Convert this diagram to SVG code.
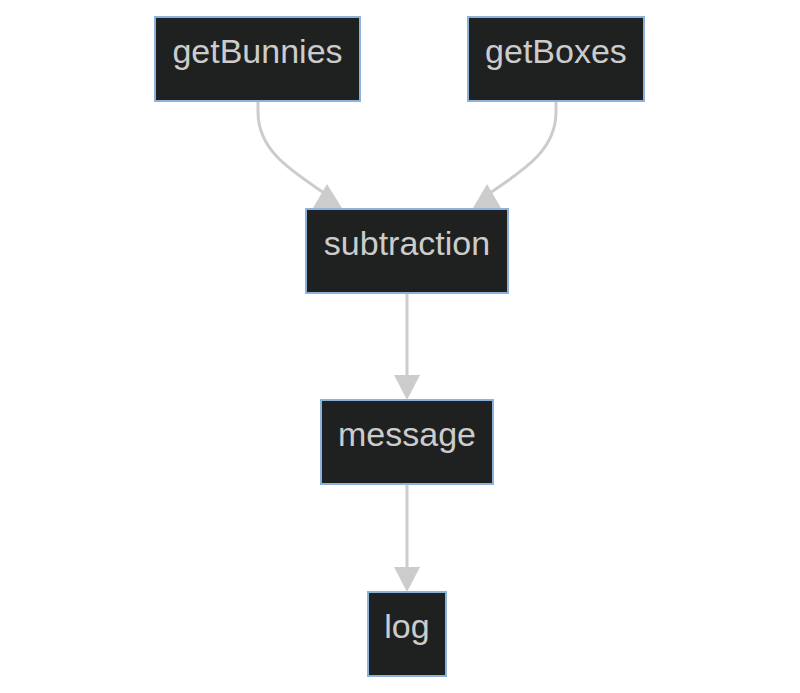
<svg xmlns="http://www.w3.org/2000/svg" width="800" height="693" viewBox="0 0 800 693">
<style>
.node rect{fill:#1f2020;stroke:#8cb2dc;stroke-width:2}
.node text{fill:#cccccc;font-family:"Liberation Sans",Arial,sans-serif;font-size:34px;text-anchor:middle}
.edge{fill:none;stroke:#cccccc;stroke-width:3}
.head{fill:#cccccc;stroke:none}
</style>
<rect width="800" height="693" fill="#ffffff"/>
<g id="edges">
<path class="edge" d="M258,101 L258,112 C258,150 290,170 324,193"/>
<polygon class="head" points="327,184 313,208 342,208"/>
<path class="edge" d="M556,101 L556,112 C556,150 524,170 490,193"/>
<polygon class="head" points="487,184 473,208 501,208"/>
<path class="edge" d="M407,293 L407,378"/>
<polygon class="head" points="394,375 420,375 407,400"/>
<path class="edge" d="M407,484 L407,570"/>
<polygon class="head" points="394,567 420,567 407,592"/>
</g>
<g id="getBunnies" class="node"><rect x="155" y="17" width="205" height="84"/><text x="257.5" y="63">getBunnies</text></g>
<g id="getBoxes" class="node"><rect x="468" y="17" width="176" height="84"/><text x="556" y="63">getBoxes</text></g>
<g id="subtraction" class="node"><rect x="306" y="209" width="202" height="84"/><text x="407" y="255">subtraction</text></g>
<g id="message" class="node"><rect x="321" y="400" width="172" height="84"/><text x="407" y="446">message</text></g>
<g id="log" class="node"><rect x="368" y="592" width="78" height="84"/><text x="407" y="638">log</text></g>
</svg>
